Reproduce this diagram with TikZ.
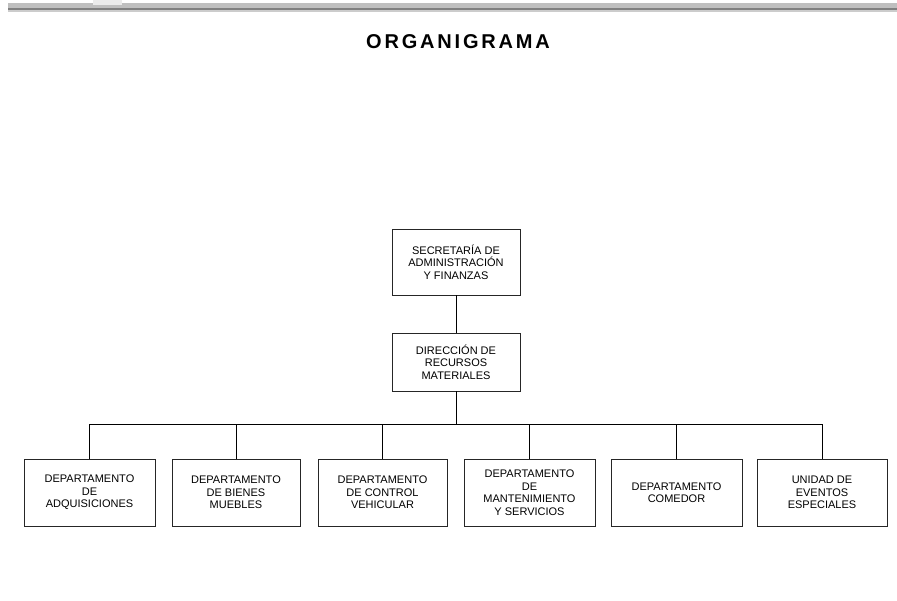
\documentclass[tikz,border=0pt]{standalone}
\usepackage{fontspec}
\setmainfont{Liberation Sans}
\begin{document}
\begin{tikzpicture}[x=1pt,y=-1pt,
  box/.style={draw=black!85, line width=0.8pt, rectangle, inner sep=0pt,
    align=center, font=\fontsize{11}{12.5}\selectfont},
  link/.style={draw=black, line width=0.8pt}]
\useasboundingbox (0,0) rectangle (897,601);
% top gray bar
\fill[black!25] (8,3) rectangle (897,8);
\fill[black!50] (8,8) rectangle (897,10);
\fill[black!20] (8,10) rectangle (897,12);
\fill[black!8] (93,0) rectangle (122,5);
% title
\node (title) at (458,42) {\fontsize{20}{20}\selectfont\addfontfeatures{LetterSpace=14}\bfseries ORGANIGRAMA};
% boxes
\node[box, minimum width=128, minimum height=66] (sec) at (456,262) {SECRETARÍA DE\\ADMINISTRACIÓN\\Y FINANZAS};
\node[box, minimum width=128, minimum height=58] (dir) at (456,362) {DIRECCIÓN DE\\RECURSOS\\MATERIALES};
\node[box, minimum width=131, minimum height=67] (b1) at (89.5,492.5) {DEPARTAMENTO\\DE\\ADQUISICIONES};
\node[box, minimum width=128, minimum height=67] (b2) at (236,492.5) {DEPARTAMENTO\\DE BIENES\\MUEBLES};
\node[box, minimum width=129, minimum height=67] (b3) at (382.5,492.5) {DEPARTAMENTO\\DE CONTROL\\VEHICULAR};
\node[box, minimum width=131, minimum height=67] (b4) at (529.5,492.5) {DEPARTAMENTO\\DE\\MANTENIMIENTO\\Y SERVICIOS};
\node[box, minimum width=131, minimum height=67] (b5) at (676.5,492.5) {DEPARTAMENTO\\COMEDOR};
\node[box, minimum width=130, minimum height=67] (b6) at (822,492.5) {UNIDAD DE\\EVENTOS\\ESPECIALES};
% connectors
\coordinate (bus) at (456,424);
\draw[link] (sec.south) -- (dir.north);
\draw[link] (dir.south) -- (bus);
\draw[link] (bus) -| (b1.north);
\draw[link] (bus) -| (b2.north);
\draw[link] (bus) -| (b3.north);
\draw[link] (bus) -| (b4.north);
\draw[link] (bus) -| (b5.north);
\draw[link] (bus) -| (b6.north);
\end{tikzpicture}
\end{document}
